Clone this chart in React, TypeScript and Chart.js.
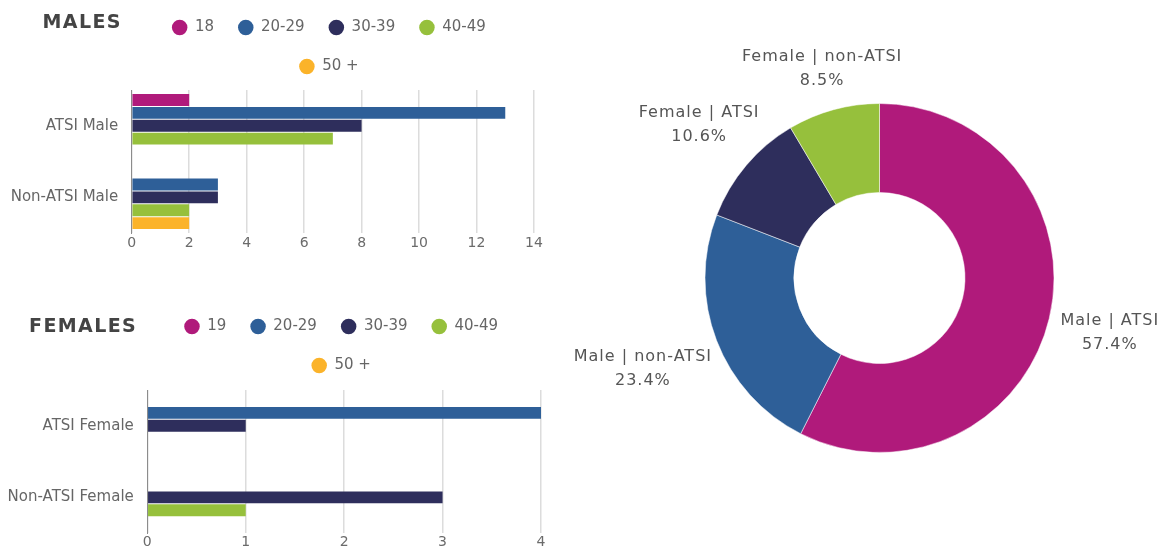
import React, { useEffect, useRef } from 'react';
import { Chart, registerables } from 'chart.js';

Chart.register(...registerables);
Chart.defaults.font.family = "'DejaVu Sans', sans-serif";

// ---------- data ----------
const MALE_CATEGORIES = ['ATSI Male', 'Non-ATSI Male'];
const MALE_AGE_LABELS = ['18', '20-29', '30-39', '40-49', '50 +'];
const MALE_18 = [2, 0];
const MALE_20_29 = [13, 3];
const MALE_30_39 = [8, 3];
const MALE_40_49 = [7, 2];
const MALE_50_PLUS = [0, 2];
const MALE_X_TICKS = [0, 2, 4, 6, 8, 10, 12, 14];

const FEMALE_CATEGORIES = ['ATSI Female', 'Non-ATSI Female'];
const FEMALE_AGE_LABELS = ['19', '20-29', '30-39', '40-49', '50 +'];
const FEMALE_19 = [0, 0];
const FEMALE_20_29 = [4, 0];
const FEMALE_30_39 = [1, 3];
const FEMALE_40_49 = [0, 1];
const FEMALE_50_PLUS = [0, 0];
const FEMALE_X_TICKS = [0, 1, 2, 3, 4];

const DONUT_LABELS = ['Male | ATSI', 'Male | non-ATSI', 'Female | ATSI', 'Female | non-ATSI'];
const DONUT_PERCENT = [57.4, 23.4, 10.6, 8.5];

// ---------- styles ----------
const MAGENTA = '#B01A7B';
const BLUE = '#2E5F98';
const NAVY = '#2E2E5C';
const GREEN = '#96C03C';
const ORANGE = '#FBB32A';
const AGE_COLORS = [MAGENTA, BLUE, NAVY, GREEN, ORANGE];
const DONUT_COLORS = [MAGENTA, BLUE, NAVY, GREEN];

// adds a little space under the legend and nudges it horizontally
function legendTweakPlugin(gap: number, shift: number) {
  return {
    id: 'legendTweak',
    beforeLayout(chart: any) {
      const legend = chart.legend;
      if (legend && !legend._gapPatched) {
        const orig = legend.fit;
        legend.fit = function () {
          orig.call(this);
          this.height += gap;
        };
        legend._gapPatched = true;
      }
    },
    afterLayout(chart: any) {
      const legend = chart.legend;
      if (legend) {
        legend.left += shift;
        legend.right += shift;
      }
    },
  };
}

type BarPanelProps = {
  left: number;
  top: number;
  width: number;
  height: number;
  categories: string[];
  ageLabels: string[];
  series: number[][];
  ticks: number[];
  padRight: number;
  yWidth: number;
  gap: number;
  shift: number;
  xTickPad: number;
};

function BarPanel(p: BarPanelProps) {
  const ref = useRef<HTMLCanvasElement>(null);
  useEffect(() => {
    const chart = new Chart(ref.current as HTMLCanvasElement, {
      type: 'bar',
      data: {
        labels: p.categories,
        datasets: p.series.map((vals, i) => ({
          label: p.ageLabels[i],
          data: vals,
          backgroundColor: AGE_COLORS[i],
          borderWidth: 0,
          barPercentage: 0.92,
          categoryPercentage: 0.9,
        })),
      },
      options: {
        indexAxis: 'y',
        responsive: false,
        animation: false,
        layout: { padding: { left: 0, right: p.padRight, top: 0, bottom: 0 } },
        plugins: {
          legend: {
            position: 'top',
            align: 'center',
            fullSize: false,
            labels: {
              usePointStyle: true,
              pointStyle: 'circle',
              boxHeight: 11,
              pointStyleWidth: 15.5,
              padding: 24,
              color: '#666',
              font: { size: 15 },
            },
          },
          tooltip: { enabled: false },
        },
        scales: {
          x: {
            min: 0,
            max: p.ticks[p.ticks.length - 1],
            afterBuildTicks: (s: any) => {
              s.ticks = p.ticks.map((v) => ({ value: v }));
            },
            grid: { color: '#dcdcdc', lineWidth: 1.5, drawTicks: false },
            border: { display: false },
            ticks: { color: '#6b6b6b', padding: p.xTickPad, font: { size: 14 } },
          },
          y: {
            grid: { display: false, drawTicks: false },
            border: { display: true, color: '#8c8c8c', width: 1 },
            ticks: { color: '#666', padding: 13.5, font: { size: 15 } },
            afterFit: (s: any) => {
              s.width = p.yWidth;
              s.paddingTop = 0;
              s.paddingBottom = 0;
            },
          },
        },
      } as any,
      plugins: [legendTweakPlugin(p.gap, p.shift)],
    });
    return () => chart.destroy();
  }, []);
  return (
    <canvas
      ref={ref}
      width={p.width}
      height={p.height}
      style={{ position: 'absolute', left: p.left, top: p.top, width: p.width, height: p.height }}
    />
  );
}

const donutLabelsPlugin = {
  id: 'donutLabels',
  afterDatasetsDraw(chart: any) {
    const ctx = chart.ctx as CanvasRenderingContext2D;
    const meta = chart.getDatasetMeta(0);
    const fs = 16;
    const lineGap = 24;
    const off = 14;
    ctx.save();
    ctx.font = `${fs}px 'DejaVu Sans', sans-serif`;
    ctx.fillStyle = '#555';
    ctx.textAlign = 'center';
    ctx.textBaseline = 'middle';
    (ctx as any).letterSpacing = '1px';
    meta.data.forEach((arc: any, i: number) => {
      const { x, y, startAngle, endAngle, outerRadius } = arc.getProps(
        ['x', 'y', 'startAngle', 'endAngle', 'outerRadius'],
        true
      );
      const mid = (startAngle + endAngle) / 2;
      const dx = Math.cos(mid);
      const dy = Math.sin(mid);
      const lines = [chart.data.labels[i], `${chart.data.datasets[0].data[i]}%`];
      const w = Math.max(...lines.map((t: string) => ctx.measureText(t).width));
      const h = lineGap + fs;
      const half = Math.hypot((dx * w) / 2, (dy * h) / 2);
      const r = outerRadius + off + half;
      const cx = x + dx * r;
      const cy = y + dy * r;
      ctx.fillText(lines[0], cx, cy - lineGap / 2);
      ctx.fillText(lines[1], cx, cy + lineGap / 2);
    });
    ctx.restore();
  },
};

function DonutPanel() {
  const ref = useRef<HTMLCanvasElement>(null);
  useEffect(() => {
    const chart = new Chart(ref.current as HTMLCanvasElement, {
      type: 'doughnut',
      data: {
        labels: DONUT_LABELS,
        datasets: [
          {
            data: DONUT_PERCENT,
            backgroundColor: DONUT_COLORS,
            borderColor: 'rgba(255,255,255,0.5)',
            borderWidth: 1,
            hoverOffset: 0,
          },
        ],
      },
      options: {
        responsive: false,
        animation: false,
        cutout: '49%',
        layout: { padding: { left: 134.5, right: 110.5, top: 103, bottom: 98 } },
        plugins: { legend: { display: false }, tooltip: { enabled: false } },
      } as any,
      plugins: [donutLabelsPlugin],
    });
    return () => chart.destroy();
  }, []);
  return (
    <canvas
      ref={ref}
      width={595}
      height={551}
      style={{ position: 'absolute', left: 570, top: 0, width: 595, height: 551 }}
    />
  );
}

const titleStyle: React.CSSProperties = {
  position: 'absolute',
  fontFamily: "'DejaVu Sans', sans-serif",
  fontWeight: 'bold',
  fontSize: 19,
  lineHeight: '19px',
  letterSpacing: '1.4px',
  color: '#444',
  whiteSpace: 'nowrap',
};

export default function App() {
  return (
    <div
      style={{
        position: 'fixed',
        left: 0,
        top: 0,
        width: 1165,
        height: 551,
        overflow: 'hidden',
        background: '#fff',
      }}
    >
      <BarPanel
        left={0}
        top={-4}
        width={560}
        height={258}
        categories={MALE_CATEGORIES}
        ageLabels={MALE_AGE_LABELS}
        series={[MALE_18, MALE_20_29, MALE_30_39, MALE_40_49, MALE_50_PLUS]}
        ticks={MALE_X_TICKS}
        padRight={26}
        yWidth={131.7}
        gap={6}
        shift={-4}
        xTickPad={2}
      />
      <BarPanel
        left={0}
        top={295}
        width={560}
        height={257}
        categories={FEMALE_CATEGORIES}
        ageLabels={FEMALE_AGE_LABELS}
        series={[FEMALE_19, FEMALE_20_29, FEMALE_30_39, FEMALE_40_49, FEMALE_50_PLUS]}
        ticks={FEMALE_X_TICKS}
        padRight={19}
        yWidth={147.3}
        gap={7}
        shift={-3}
        xTickPad={1}
      />
      <DonutPanel />
      <div style={{ ...titleStyle, left: 42.5, top: 12 }}>MALES</div>
      <div style={{ ...titleStyle, left: 29, top: 316 }}>FEMALES</div>
    </div>
  );
}
